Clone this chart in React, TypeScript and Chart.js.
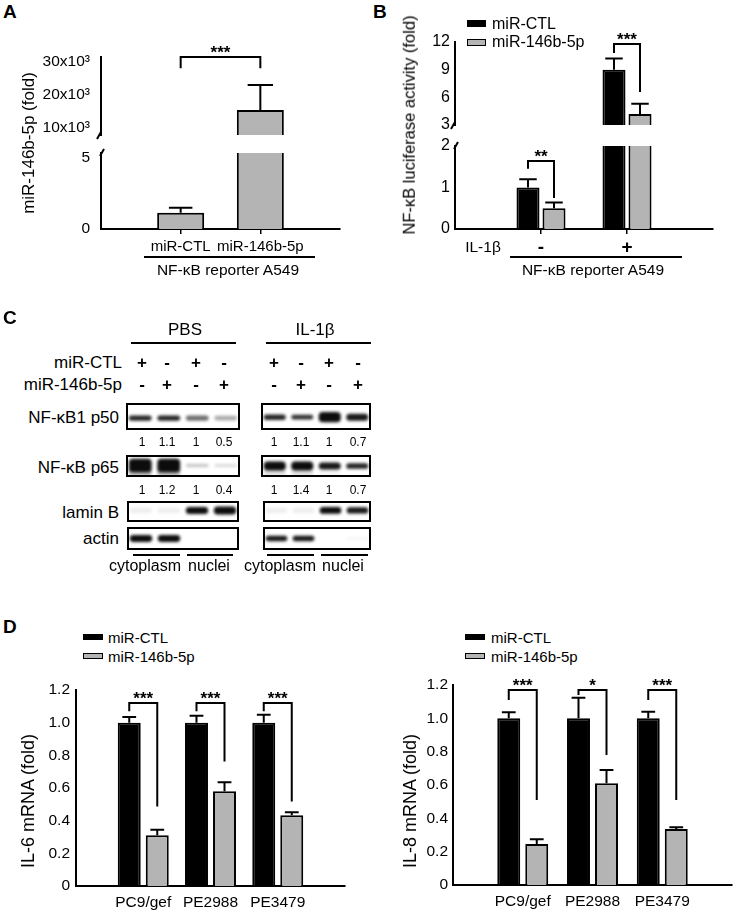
import React, { useEffect, useRef } from 'react';
import { Chart, registerables } from 'chart.js';

Chart.register(...registerables);

const FONT = 'Arial, "Liberation Sans", Helvetica, sans-serif';
Chart.defaults.font.family = FONT;
Chart.defaults.color = '#000';

const BLACK = '#000000';
const GRAY = '#b4b4b4';

// ---------------- Panel A data ----------------
const aCategories = ['miR-CTL', 'miR-146b-5p'];
const aPositions = [1, 2];
const aValues = [1.14, 15300];
const aErrors = [0.36, 7650];
const aUpperTicks = [10000, 20000, 30000];
const aLowerTicks = [0, 5];

// ---------------- Panel B data ----------------
const bGroups = ['-', '+'];
const bPositions = [1, 2];
const bCtl = [1.0, 9.0];
const bCtlErr = [0.2, 1.2];
const bMir = [0.5, 4.2];
const bMirErr = [0.14, 1.1];
const bUpperTicks = [3, 6, 9, 12];
const bLowerTicks = [0, 1, 2];

// ---------------- Panel C data (blots) ----------------
const blotLanes = ['1', '2', '3', '4'];
const ctlSigns = ['+', '-', '+', '-'];
const mirSigns = ['-', '+', '-', '+'];
const p50PbsNumbers = ['1', '1.1', '1', '0.5'];
const p50IlNumbers = ['1', '1.1', '1', '0.7'];
const p65PbsNumbers = ['1', '1.2', '1', '0.4'];
const p65IlNumbers = ['1', '1.4', '1', '0.7'];
const p50PbsIntensity = [0.9, 0.9, 0.6, 0.35];
const p50PbsHalf = [0.2, 0.2, 0.2, 0.18];
const p50IlIntensity = [0.9, 0.85, 1.0, 0.95];
const p50IlHalf = [0.2, 0.18, 0.38, 0.26];
const p65PbsIntensity = [1.0, 1.0, 0.25, 0.15];
const p65PbsHalf = [0.62, 0.62, 0.14, 0.14];
const p65IlIntensity = [1.0, 1.0, 0.95, 0.9];
const p65IlHalf = [0.42, 0.42, 0.32, 0.26];
const laminPbsIntensity = [0.07, 0.07, 1.0, 1.0];
const laminPbsHalf = [0.25, 0.25, 0.34, 0.38];
const laminIlIntensity = [0.07, 0.07, 1.0, 0.95];
const laminIlHalf = [0.25, 0.25, 0.32, 0.3];
const actinPbsIntensity = [1.0, 1.0, 0, 0];
const actinPbsHalf = [0.3, 0.3, 0, 0];
const actinIlIntensity = [0.95, 0.95, 0, 0.04];
const actinIlHalf = [0.24, 0.24, 0, 0.1];

// ---------------- Panel D data ----------------
const dCells = ['PC9/gef', 'PE2988', 'PE3479'];
const dPositions = [1, 2, 3];
const il6Ctl = [1.0, 1.0, 1.0];
const il6CtlErr = [0.034, 0.042, 0.048];
const il6Mir = [0.31, 0.58, 0.433];
const il6MirErr = [0.034, 0.055, 0.018];
const il8Ctl = [1.0, 1.0, 1.0];
const il8CtlErr = [0.036, 0.124, 0.04];
const il8Mir = [0.246, 0.61, 0.336];
const il8MirErr = [0.028, 0.08, 0.01];
const dTicks = [0, 0.2, 0.4, 0.6, 0.8, 1.0, 1.2];
const il6Sig = ['***', '***', '***'];
const il6RightLeg = [0.486, 0.763, 0.517];
const il8Sig = ['***', '*', '***'];
const il8LeftLeg = [1.11, 1.14, 1.11];
const il8RightLeg = [0.51, 0.78, 0.51];

type Frame = { x: number; y: number; w: number; h: number; l: number; t: number; r: number; b: number };
type Bracket = { left: [number, number]; right: [number, number]; leftY: number; topY: number; rightY: number; label: string };
type Series = { values: number[]; errors: number[]; color: string };

type BarOpts = {
  frame: Frame;
  xMax: number;
  positions: number[];
  showX: boolean;
  xLabels?: string[];
  xFont?: any;
  xPad?: number;
  xTickMarks?: boolean;
  yMin: number;
  yMax: number;
  yTicks: number[];
  yFmt: (v: number) => string;
  yPad: number;
  yFont?: any;
  series: Series[];
  catPct: number;
  barPct: number;
  capRatio: number;
  brackets?: Bracket[];
  brk?: 'top' | 'bottom';
};

function barConfig(o: BarOpts): any {
  const f = o.frame;
  const datasets = o.series.map((s) => ({
    data: o.positions.map((p, i) => ({ x: p, y: s.values[i] })),
    errors: s.errors,
    backgroundColor: s.color,
    borderColor: BLACK,
    borderWidth: 2,
    borderSkipped: 'start',
    categoryPercentage: o.catPct,
    barPercentage: o.barPct,
    clip: 0,
  }));
  const decor = {
    id: 'decor',
    afterDatasetsDraw(chart: any) {
      const ctx = chart.ctx;
      const a = chart.chartArea;
      const ys = chart.scales.y;
      ctx.save();
      ctx.beginPath();
      ctx.rect(a.left - 10, a.top - 1, a.right - a.left + 20, a.bottom - a.top + 1);
      ctx.clip();
      ctx.strokeStyle = BLACK;
      ctx.lineWidth = 2;
      chart.data.datasets.forEach((ds: any, di: number) => {
        const meta = chart.getDatasetMeta(di);
        meta.data.forEach((el: any, i: number) => {
          const v = ds.data[i].y;
          const top = ys.getPixelForValue(v + ds.errors[i]);
          const base = ys.getPixelForValue(v);
          const half = el.width * o.capRatio;
          ctx.beginPath();
          ctx.moveTo(el.x, base);
          ctx.lineTo(el.x, top);
          ctx.moveTo(el.x - half, top);
          ctx.lineTo(el.x + half, top);
          ctx.stroke();
        });
      });
      ctx.restore();
    },
    afterDraw(chart: any) {
      const ctx = chart.ctx;
      const a = chart.chartArea;
      const ys = chart.scales.y;
      ctx.save();
      ctx.strokeStyle = BLACK;
      ctx.fillStyle = BLACK;
      ctx.lineWidth = 2;
      (o.brackets || []).forEach((b) => {
        const xl = chart.getDatasetMeta(b.left[0]).data[b.left[1]].x;
        const xr = chart.getDatasetMeta(b.right[0]).data[b.right[1]].x;
        const ty = ys.getPixelForValue(b.topY);
        ctx.beginPath();
        ctx.moveTo(xl, ys.getPixelForValue(b.leftY));
        ctx.lineTo(xl, ty);
        ctx.lineTo(xr, ty);
        ctx.lineTo(xr, ys.getPixelForValue(b.rightY));
        ctx.stroke();
        ctx.font = 'bold 17px ' + FONT;
        ctx.textAlign = 'center';
        ctx.textBaseline = 'alphabetic';
        ctx.fillText(b.label, (xl + xr) / 2, ty + 1);
      });
      if (o.brk === 'bottom') {
        ctx.beginPath();
        ctx.moveTo(a.left, a.bottom - 3);
        ctx.lineTo(a.left - 4, a.bottom + 4);
        ctx.stroke();
      } else if (o.brk === 'top') {
        ctx.beginPath();
        ctx.moveTo(a.left - 1, a.top + 3);
        ctx.lineTo(a.left + 3, a.top - 4);
        ctx.stroke();
      }
      ctx.restore();
    },
  };
  return {
    type: 'bar',
    data: { datasets },
    options: {
      responsive: false,
      animation: false,
      events: [],
      layout: {
        padding: { left: 0, top: f.t - f.y, right: f.x + f.w - f.r, bottom: o.showX ? 0 : f.y + f.h - f.b },
      },
      plugins: { legend: { display: false }, tooltip: { enabled: false } },
      scales: {
        x: {
          type: 'linear',
          min: 0,
          max: o.xMax,
          offset: false,
          display: o.showX,
          z: 1,
          afterBuildTicks: (s: any) => {
            s.ticks = o.positions.map((v) => ({ value: v }));
          },
          afterFit: (s: any) => {
            s.height = o.showX ? f.y + f.h - f.b : 0;
            s.paddingLeft = 0;
            s.paddingRight = 0;
          },
          grid: {
            display: !!o.xTickMarks,
            offset: false,
            drawOnChartArea: false,
            drawTicks: !!o.xTickMarks,
            tickLength: 5,
            color: BLACK,
            lineWidth: 1.5,
          },
          border: { display: true, color: BLACK, width: 2 },
          ticks: {
            display: !!o.xLabels,
            autoSkip: false,
            maxRotation: 0,
            padding: o.xPad ?? 4,
            font: o.xFont || { size: 15 },
            color: BLACK,
            callback: (v: number) => (o.xLabels ? o.xLabels[o.positions.indexOf(v)] : ''),
          },
        },
        y: {
          type: 'linear',
          min: o.yMin,
          max: o.yMax,
          afterBuildTicks: (s: any) => {
            s.ticks = o.yTicks.map((v) => ({ value: v }));
          },
          afterFit: (s: any) => {
            s.width = f.l - f.x;
            s.paddingTop = 0;
            s.paddingBottom = 0;
          },
          grid: { display: false, drawTicks: false, tickLength: 0 },
          border: { display: true, color: BLACK, width: 2 },
          ticks: {
            autoSkip: false,
            padding: o.yPad,
            font: o.yFont || { size: 15.5 },
            color: BLACK,
            callback: (v: number) => o.yFmt(v),
          },
        },
      },
    },
    plugins: [decor],
  };
}

const blotPlugin = {
  id: 'blot',
  beforeDatasetsDraw(chart: any) {
    chart.ctx.save();
    chart.ctx.filter = 'blur(1.4px)';
  },
  afterDatasetsDraw(chart: any) {
    const ctx = chart.ctx;
    ctx.restore();
    ctx.save();
    ctx.strokeStyle = BLACK;
    ctx.lineWidth = 2;
    ctx.strokeRect(1, 1, chart.width - 2, chart.height - 2);
    ctx.restore();
  },
};

function blotConfig(intensity: number[], half: number[], center: number, smear?: number[]): any {
  const datasets: any[] = [
    {
      data: half.map((h) => [center - h, center + h]),
      backgroundColor: intensity.map((a) => `rgba(12,12,12,${a})`),
      borderWidth: 0,
      borderRadius: 4,
      barPercentage: 0.8,
      categoryPercentage: 1,
      grouped: false,
      borderSkipped: false,
    },
  ];
  if (smear) {
    datasets.push({
      data: smear.map(() => [center - 0.95, center - 0.3]),
      backgroundColor: smear.map((a) => `rgba(12,12,12,${a})`),
      borderWidth: 0,
      borderRadius: 3,
      barPercentage: 0.8,
      categoryPercentage: 1,
      grouped: false,
      borderSkipped: false,
    });
  }
  return {
    type: 'bar',
    data: { labels: blotLanes, datasets },
    options: {
      responsive: false,
      animation: false,
      events: [],
      layout: { padding: 0 },
      plugins: { legend: { display: false }, tooltip: { enabled: false } },
      scales: { x: { display: false }, y: { display: false, min: -1, max: 1 } },
    },
    plugins: [blotPlugin],
  };
}

function ChartCanvas({ x, y, w, h, make }: { x: number; y: number; w: number; h: number; make: () => any }) {
  const ref = useRef<HTMLCanvasElement>(null);
  useEffect(() => {
    const chart = new Chart(ref.current as HTMLCanvasElement, make());
    return () => chart.destroy();
  }, []);
  return (
    <canvas
      ref={ref}
      width={w}
      height={h}
      style={{ position: 'absolute', left: x, top: y, width: w, height: h }}
    />
  );
}

function T({
  x, y, text, size = 15, bold = false, align = 'center', rotate = false,
}: { x: number; y: number; text: string; size?: number; bold?: boolean; align?: 'left' | 'center' | 'right'; rotate?: boolean }) {
  const tx = align === 'center' ? '-50%' : align === 'right' ? '-100%' : '0';
  return (
    <div
      style={{
        position: 'absolute',
        left: x,
        top: y,
        transform: `translate(${tx}, -50%)${rotate ? ' rotate(-90deg)' : ''}`,
        fontFamily: FONT,
        fontSize: size,
        fontWeight: bold ? 700 : 400,
        lineHeight: 1,
        whiteSpace: 'nowrap',
        color: '#000',
      }}
    >
      {text}
    </div>
  );
}

function HLine({ x1, x2, y }: { x1: number; x2: number; y: number }) {
  return <div style={{ position: 'absolute', left: x1, top: y - 0.75, width: x2 - x1, height: 1.5, background: '#000' }} />;
}

function Box({ x, y, w, h, color, border }: { x: number; y: number; w: number; h: number; color: string; border: boolean }) {
  return (
    <div
      style={{
        position: 'absolute', left: x, top: y, width: w, height: h, background: color,
        border: border ? '1.5px solid #000' : 'none', boxSizing: 'border-box',
      }}
    />
  );
}

const fmtK = (v: number) => `${v / 1000}x10³`;
const fmtInt = (v: number) => `${v}`;
const fmtD = (v: number) => (v === 0 ? '0' : v.toFixed(1));

const pbsLanes = [142, 167, 196, 224];
const ilLanes = [274, 301, 329, 358];

export default function App() {
  const aUpper: Frame = { x: 0, y: 30, w: 360, h: 125, l: 101, t: 57, r: 340, b: 135 };
  const aLower: Frame = { x: 0, y: 128, w: 360, h: 137, l: 101, t: 153, r: 340, b: 229 };
  const bUpper: Frame = { x: 370, y: 20, w: 366, h: 125, l: 455, t: 42, r: 713, b: 125 };
  const bLower: Frame = { x: 370, y: 126, w: 366, h: 139, l: 455, t: 146, r: 713, b: 229 };
  const dLeft: Frame = { x: 0, y: 670, w: 368, h: 242, l: 76, t: 690, r: 345, b: 886 };
  const dRight: Frame = { x: 368, y: 665, w: 368, h: 247, l: 453, t: 685, r: 732, b: 885 };

  return (
    <div style={{ position: 'absolute', left: 0, top: 0, width: 736, height: 912, background: '#fff', overflow: 'hidden' }}>
      {/* Panel A */}
      <T x={3} y={11} text="A" size={19} bold align="left" />
      <ChartCanvas {...aUpper} make={() => barConfig({
        frame: aUpper, xMax: 3, positions: aPositions, showX: false,
        yMin: 7700, yMax: 31500, yTicks: aUpperTicks, yFmt: fmtK, yPad: 11,
        series: [{ values: aValues, errors: aErrors, color: GRAY }],
        catPct: 0.59, barPct: 1, capRatio: 0.27, brk: 'bottom',
        brackets: [{ left: [0, 0], right: [0, 1], leftY: 28100, topY: 31500, rightY: 28100, label: '***' }],
      })} />
      <ChartCanvas {...aLower} make={() => barConfig({
        frame: aLower, xMax: 3, positions: aPositions, showX: true, xLabels: aCategories, xTickMarks: true, xPad: 4,
        yMin: 0, yMax: 5.35, yTicks: aLowerTicks, yFmt: fmtInt, yPad: 11,
        series: [{ values: aValues, errors: aErrors, color: GRAY }],
        catPct: 0.59, barPct: 1, capRatio: 0.25, brk: 'top',
      })} />
      <T x={28} y={143} text="miR-146b-5p (fold)" size={17} rotate />
      <HLine x1={144} x2={315} y={257} />
      <T x={228} y={270} text="NF-κB reporter A549" size={15.5} />

      {/* Panel B */}
      <T x={373} y={11} text="B" size={19} bold align="left" />
      <ChartCanvas {...bUpper} make={() => barConfig({
        frame: bUpper, xMax: 3, positions: bPositions, showX: false,
        yMin: 3, yMax: 12, yTicks: bUpperTicks, yFmt: fmtInt, yPad: 5, yFont: { size: 16 },
        series: [{ values: bCtl, errors: bCtlErr, color: BLACK }, { values: bMir, errors: bMirErr, color: GRAY }],
        catPct: 0.605, barPct: 0.885, capRatio: 0.38, brk: 'bottom',
        brackets: [{ left: [0, 1], right: [1, 1], leftY: 10.8, topY: 11.78, rightY: 6.58, label: '***' }],
      })} />
      <ChartCanvas {...bLower} make={() => barConfig({
        frame: bLower, xMax: 3, positions: bPositions, showX: true, xLabels: bGroups, xTickMarks: true, xPad: 2,
        xFont: { size: 19, weight: 'bold' },
        yMin: 0, yMax: 2, yTicks: bLowerTicks, yFmt: fmtInt, yPad: 5, yFont: { size: 16 },
        series: [{ values: bCtl, errors: bCtlErr, color: BLACK }, { values: bMir, errors: bMirErr, color: GRAY }],
        catPct: 0.605, barPct: 0.885, capRatio: 0.38, brk: 'top',
        brackets: [{ left: [0, 0], right: [1, 0], leftY: 1.45, topY: 1.64, rightY: 0.75, label: '**' }],
      })} />
      <Box x={467} y={20} w={19} h={7} color={BLACK} border={false} />
      <Box x={467} y={39} w={19} h={7} color={GRAY} border />
      <T x={492} y={24} text="miR-CTL" size={16} align="left" />
      <T x={492} y={42} text="miR-146b-5p" size={16} align="left" />
      <T x={409} y={125} text="NF-κB luciferase activity (fold)" size={16.5} rotate />
      <T x={483} y={247} text="IL-1β" size={15.5} />
      <HLine x1={510} x2={682} y={257} />
      <T x={593} y={270} text="NF-κB reporter A549" size={15.5} />

      {/* Panel C */}
      <T x={3} y={317} text="C" size={19} bold align="left" />
      <T x={185} y={329} text="PBS" size={17} />
      <T x={315} y={329} text="IL-1β" size={17} />
      <HLine x1={131} x2={236} y={343} />
      <HLine x1={266} x2={371} y={343} />
      <T x={122} y={362} text="miR-CTL" size={17} align="right" />
      <T x={122} y={384} text="miR-146b-5p" size={17} align="right" />
      {pbsLanes.concat(ilLanes).map((lx, i) => (
        <T key={'c' + i} x={lx} y={362} text={ctlSigns[i % 4]} size={17} bold />
      ))}
      {pbsLanes.concat(ilLanes).map((lx, i) => (
        <T key={'m' + i} x={lx} y={384} text={mirSigns[i % 4]} size={17} bold />
      ))}
      <T x={119} y={417} text="NF-κB1 p50" size={17} align="right" />
      <T x={119} y={467} text="NF-κB p65" size={17} align="right" />
      <T x={119} y={512} text="lamin B" size={17} align="right" />
      <T x={119} y={538} text="actin" size={17} align="right" />
      <ChartCanvas x={126} y={403} w={114} h={27} make={() => blotConfig(p50PbsIntensity, p50PbsHalf, -0.12)} />
      <ChartCanvas x={261} y={403} w={110} h={27} make={() => blotConfig(p50IlIntensity, p50IlHalf, -0.05)} />
      <ChartCanvas x={126} y={455} w={114} h={22} make={() => blotConfig(p65PbsIntensity, p65PbsHalf, 0.05, [0.3, 0.3, 0, 0])} />
      <ChartCanvas x={261} y={455} w={110} h={22} make={() => blotConfig(p65IlIntensity, p65IlHalf, 0.0, [0.12, 0.12, 0.04, 0])} />
      <ChartCanvas x={127} y={501} w={112} h={21} make={() => blotConfig(laminPbsIntensity, laminPbsHalf, 0.1)} />
      <ChartCanvas x={263} y={501} w={108} h={21} make={() => blotConfig(laminIlIntensity, laminIlHalf, 0.1)} />
      <ChartCanvas x={127} y={527} w={112} h={23} make={() => blotConfig(actinPbsIntensity, actinPbsHalf, 0.0)} />
      <ChartCanvas x={263} y={527} w={108} h={23} make={() => blotConfig(actinIlIntensity, actinIlHalf, 0.0)} />
      {pbsLanes.map((lx, i) => <T key={'n1' + i} x={lx} y={442} text={p50PbsNumbers[i]} size={12} />)}
      {ilLanes.map((lx, i) => <T key={'n2' + i} x={lx} y={442} text={p50IlNumbers[i]} size={12} />)}
      {pbsLanes.map((lx, i) => <T key={'n3' + i} x={lx} y={490} text={p65PbsNumbers[i]} size={12} />)}
      {ilLanes.map((lx, i) => <T key={'n4' + i} x={lx} y={490} text={p65IlNumbers[i]} size={12} />)}
      <HLine x1={133} x2={180} y={555} />
      <HLine x1={187} x2={233} y={555} />
      <HLine x1={267} x2={314} y={555} />
      <HLine x1={321} x2={368} y={555} />
      <T x={145} y={566} text="cytoplasm" size={16} />
      <T x={209} y={566} text="nuclei" size={16} />
      <T x={280} y={566} text="cytoplasm" size={16} />
      <T x={343} y={566} text="nuclei" size={16} />

      {/* Panel D */}
      <T x={3} y={626} text="D" size={19} bold align="left" />
      <ChartCanvas {...dLeft} make={() => barConfig({
        frame: dLeft, xMax: 4, positions: dPositions, showX: true, xLabels: dCells, xPad: 7, xFont: { size: 15.5 },
        yMin: 0, yMax: 1.2, yTicks: dTicks, yFmt: fmtD, yPad: 6,
        series: [{ values: il6Ctl, errors: il6CtlErr, color: BLACK }, { values: il6Mir, errors: il6MirErr, color: GRAY }],
        catPct: 0.833, barPct: 0.82, capRatio: 0.3,
        brackets: dPositions.map((_, i) => ({ left: [0, i] as [number, number], right: [1, i] as [number, number], leftY: 1.07, topY: 1.12, rightY: il6RightLeg[i], label: il6Sig[i] })),
      })} />
      <ChartCanvas {...dRight} make={() => barConfig({
        frame: dRight, xMax: 4, positions: dPositions, showX: true, xLabels: dCells, xPad: 7, xFont: { size: 15.5 },
        yMin: 0, yMax: 1.2, yTicks: dTicks, yFmt: fmtD, yPad: 5,
        series: [{ values: il8Ctl, errors: il8CtlErr, color: BLACK }, { values: il8Mir, errors: il8MirErr, color: GRAY }],
        catPct: 0.803, barPct: 0.82, capRatio: 0.3,
        brackets: dPositions.map((_, i) => ({ left: [0, i] as [number, number], right: [1, i] as [number, number], leftY: il8LeftLeg[i], topY: 1.17, rightY: il8RightLeg[i], label: il8Sig[i] })),
      })} />
      <Box x={83} y={634} w={20} h={6} color={BLACK} border={false} />
      <Box x={83} y={653} w={20} h={6} color={GRAY} border />
      <T x={108} y={637} text="miR-CTL" size={15} align="left" />
      <T x={108} y={656} text="miR-146b-5p" size={15} align="left" />
      <Box x={465} y={634} w={20} h={6} color={BLACK} border={false} />
      <Box x={465} y={653} w={20} h={6} color={GRAY} border />
      <T x={491} y={637} text="miR-CTL" size={15} align="left" />
      <T x={491} y={656} text="miR-146b-5p" size={15} align="left" />
      <T x={28} y={801} text="IL-6 mRNA (fold)" size={18} rotate />
      <T x={410} y={801} text="IL-8 mRNA (fold)" size={18} rotate />
    </div>
  );
}
